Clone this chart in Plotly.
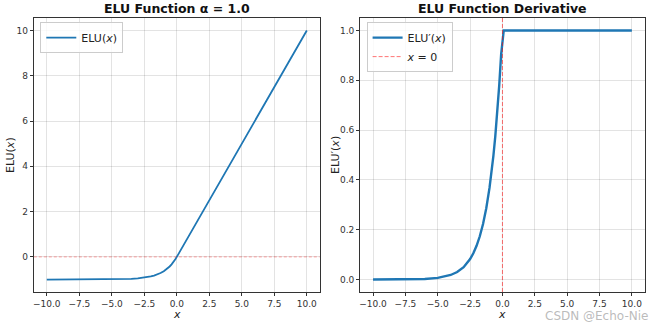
import plotly.graph_objects as go

x_vals = [-10, -9, -8, -7, -6, -5, -4.5, -4, -3.5, -3, -2.5, -2.25, -2, -1.75, -1.5,
          -1.25, -1, -0.85, -0.7, -0.55, -0.4, -0.25, -0.1, 0.1, 10]
elu_vals = [-0.99995, -0.99988, -0.99966, -0.99909, -0.99752, -0.99326, -0.98889,
            -0.98168, -0.96980, -0.95021, -0.91792, -0.89460, -0.86466, -0.82623,
            -0.77687, -0.71350, -0.63212, -0.57256, -0.50341, -0.42305, -0.32968,
            -0.22120, -0.09516, 0.1, 10.0]
deriv_vals = [0.0000454, 0.000123, 0.000335, 0.000912, 0.00248, 0.00674, 0.01111,
              0.01832, 0.03020, 0.04979, 0.08208, 0.10540, 0.13534, 0.17377, 0.22313,
              0.28650, 0.36788, 0.42741, 0.49659, 0.57695, 0.67032, 0.77880, 0.90484,
              1.0, 1.0]

x_ticks = [-10, -7.5, -5, -2.5, 0, 2.5, 5, 7.5, 10]
x_tick_text = ["\u221210.0", "\u22127.5", "\u22125.0", "\u22122.5", "0.0", "2.5", "5.0", "7.5", "10.0"]
left_y_ticks = [0, 2, 4, 6, 8, 10]
right_y_ticks = [0.0, 0.2, 0.4, 0.6, 0.8, 1.0]
right_y_text = ["0.0", "0.2", "0.4", "0.6", "0.8", "1.0"]

BLUE = "#1f77b4"
RED_H = "rgba(255,0,0,0.4)"
RED_V = "rgba(255,0,0,0.55)"
GRID = "rgba(0,0,0,0.11)"
FONT = "DejaVu Sans"

fig = go.Figure()

fig.add_trace(go.Scatter(x=x_vals, y=elu_vals, mode="lines", name="ELU(<i>x</i>)",
                         line=dict(color=BLUE, width=1.8), xaxis="x", yaxis="y", legend="legend"))
fig.add_trace(go.Scatter(x=[-11, 11], y=[0, 0], mode="lines", showlegend=False,
                         line=dict(color=RED_H, width=0.9, dash="3px,2px"), xaxis="x", yaxis="y"))

fig.add_trace(go.Scatter(x=x_vals, y=deriv_vals, mode="lines", name="ELU\u2032(<i>x</i>)",
                         line=dict(color=BLUE, width=2.4), xaxis="x2", yaxis="y2", legend="legend2"))
fig.add_trace(go.Scatter(x=[0, 0], y=[-0.05, 1.05], mode="lines", name="<i>x</i> = 0",
                         line=dict(color=RED_V, width=1, dash="4px,2px"), xaxis="x2", yaxis="y2", legend="legend2"))

axis_common = dict(showgrid=True, gridcolor=GRID, gridwidth=1, zeroline=False,
                   showline=True, linecolor="#333", linewidth=1, mirror=True,
                   ticks="outside", ticklen=3, tickcolor="#333",
                   tickfont=dict(family=FONT, size=9, color="#333"), automargin=False)

fig.update_layout(
    width=650, height=323,
    margin=dict(l=0, r=0, t=18, b=31),
    paper_bgcolor="white", plot_bgcolor="white",
    font=dict(family=FONT, color="#222"),
    xaxis=dict(domain=[0.052, 0.492], range=[-11, 11], tickvals=x_ticks, ticktext=x_tick_text,
               anchor="y", **axis_common),
    yaxis=dict(domain=[0, 1], range=[-1.55, 10.55], tickvals=left_y_ticks, anchor="x", **axis_common),
    xaxis2=dict(domain=[0.554, 0.992], range=[-11, 11], tickvals=x_ticks, ticktext=x_tick_text,
                anchor="y2", **axis_common),
    yaxis2=dict(domain=[0, 1], range=[-0.05, 1.05], tickvals=right_y_ticks, ticktext=right_y_text,
                anchor="x2", **axis_common),
    legend=dict(x=0.062, y=0.985, xanchor="left", yanchor="top", bgcolor="rgba(255,255,255,0.8)",
                bordercolor="#ccc", borderwidth=1, font=dict(family=FONT, size=11, color="#222"),
                itemwidth=30, tracegroupgap=0),
    legend2=dict(x=0.564, y=0.985, xanchor="left", yanchor="top", bgcolor="rgba(255,255,255,0.8)",
                 bordercolor="#ccc", borderwidth=1, font=dict(family=FONT, size=11, color="#222"),
                 itemwidth=30, tracegroupgap=0),
    showlegend=True,
)

annotations = [
    dict(text="<b>ELU Function \u03b1 = 1.0</b>", x=0.272, y=1, xref="paper", yref="paper",
         xanchor="center", yanchor="bottom", yshift=0, showarrow=False,
         font=dict(family=FONT, size=12.5, color="#111")),
    dict(text="<b>ELU Function Derivative</b>", x=0.773, y=1, xref="paper", yref="paper",
         xanchor="center", yanchor="bottom", yshift=0, showarrow=False,
         font=dict(family=FONT, size=12.5, color="#111")),
    dict(text="<i>x</i>", x=0.272, y=0, xref="paper", yref="paper", xanchor="center", yanchor="top",
         yshift=-14, showarrow=False, font=dict(family=FONT, size=11, color="#222")),
    dict(text="<i>x</i>", x=0.773, y=0, xref="paper", yref="paper", xanchor="center", yanchor="top",
         yshift=-14, showarrow=False, font=dict(family=FONT, size=11, color="#222")),
    dict(text="ELU(<i>x</i>)", x=10 / 650, y=0.5, xref="paper", yref="paper", xanchor="center",
         yanchor="middle", textangle=-90, showarrow=False, font=dict(family=FONT, size=11, color="#222")),
    dict(text="ELU\u2032(<i>x</i>)", x=335 / 650, y=0.5, xref="paper", yref="paper", xanchor="center",
         yanchor="middle", textangle=-90, showarrow=False, font=dict(family=FONT, size=11, color="#222")),
    dict(text="CSDN @Echo-Nie", x=1, y=0, xref="paper", yref="paper", xanchor="right", yanchor="top",
         yshift=-15, xshift=0, showarrow=False, font=dict(family=FONT, size=12, color="rgba(175,175,175,0.85)")),
]
fig.update_layout(annotations=annotations)

fig.write_html("out.html")
